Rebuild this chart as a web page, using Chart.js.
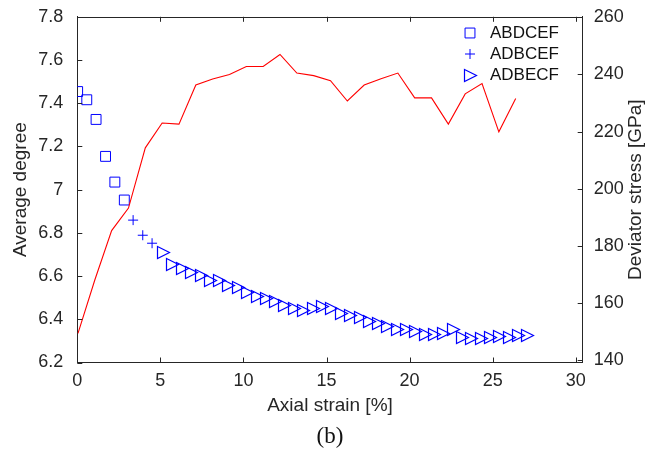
<!DOCTYPE html>
<html>
<head>
<meta charset="utf-8">
<script src="https://cdn.jsdelivr.net/npm/chart.js@4.4.1/dist/chart.umd.min.js"></script>
<style>
body { margin: 0; background: #fff; }
#wrap { position: relative; width: 656px; height: 452px; }
#caption { position: absolute; left: 0; top: 423px; width: 660px; text-align: center;
  font-family: "Liberation Serif", "DejaVu Serif", serif; font-size: 23px; color: #111; }
</style>
</head>
<body>
<div id="wrap">
  <canvas id="chart" width="656" height="452"></canvas>
  <div id="caption">(b)</div>
</div>
<script>
// average degree vs axial strain, one list per ordering
const strainABDCEF = [0.02, 0.57, 1.13, 1.70, 2.26, 2.83];
const degreeABDCEF = [7.454, 7.416, 7.325, 7.154, 7.035, 6.952];

const strainADBCEF = [3.36, 3.94, 4.50];
const degreeADBCEF = [6.859, 6.789, 6.752];

const strainADBECF = [5.2, 5.76, 6.32, 6.89, 7.45, 8.01, 8.57, 9.13, 9.69, 10.26,
  10.82, 11.38, 11.94, 12.5, 13.06, 13.63, 14.19, 14.75, 15.32, 15.88,
  16.46, 17.02, 17.56, 18.1, 18.68, 19.25, 19.79, 20.36, 20.93, 21.48,
  22.05, 22.62, 23.16, 23.7, 24.3, 24.85, 25.39, 25.99, 26.53, 27.07];
const degreeADBECF = [6.709, 6.655, 6.637, 6.616, 6.601, 6.578, 6.579, 6.558, 6.549, 6.526,
  6.504, 6.494, 6.483, 6.464, 6.449, 6.44, 6.448, 6.46, 6.452, 6.428,
  6.418, 6.409, 6.39, 6.382, 6.366, 6.353, 6.355, 6.343, 6.329, 6.329,
  6.336, 6.351, 6.315, 6.312, 6.312, 6.315, 6.32, 6.314, 6.323, 6.323];

// deviator stress (right axis)
const strainStress = [0, 1, 2, 3, 4, 5, 6, 7, 8, 9, 10, 11, 12, 13, 14, 15, 16, 17, 18, 19, 20, 21, 22, 23, 24, 25, 26];
const stress = [149.3, 168, 185.3, 193.2, 214.3, 223, 222.6, 236.3, 238.4, 240,
  242.8, 242.8, 247, 240.5, 239.6, 237.8, 230.7, 236.3, 238.5, 240.5,
  231.8, 231.8, 222.6, 233.2, 236.8, 219.9, 231.6];

const xTicks = [0, 5, 10, 15, 20, 25, 30];
const yTicks = [6.2, 6.4, 6.6, 6.8, 7.0, 7.2, 7.4, 7.6, 7.8];
const y1Ticks = [140, 160, 180, 200, 220, 240, 260];

const axisColor = '#262626';
const blue = '#0000ff';
const red = '#ff0000';

Chart.defaults.font.family = '"Liberation Sans", Arial, sans-serif';
Chart.defaults.color = axisColor;

function zip(xs, ys) {
  return xs.map((x, i) => ({ x: x, y: ys[i] }));
}

// matlab style '>' marker
const triMarker = document.createElement('canvas');
triMarker.width = 15;
triMarker.height = 15;
(function () {
  const c = triMarker.getContext('2d');
  c.strokeStyle = blue;
  c.lineWidth = 1.2;
  c.beginPath();
  c.moveTo(1.5, 1.5);
  c.lineTo(13.5, 7.5);
  c.lineTo(1.5, 13.5);
  c.closePath();
  c.stroke();
})();

const legendRows = [
  { label: 'ABDCEF', style: { pointStyle: 'rect', radius: 7, rotation: 0, borderWidth: 1 }, y: 33 },
  { label: 'ADBCEF', style: { pointStyle: 'cross', radius: 5, rotation: 0, borderWidth: 1 }, y: 54 },
  { label: 'ADBECF', style: { pointStyle: triMarker, radius: 7, rotation: 0, borderWidth: 1 }, y: 75 }
];

const framePlugin = {
  id: 'frame',
  beforeDatasetsDraw(chart) {
    // keep the image markers crisp
    chart.ctx.imageSmoothingEnabled = false;
  },
  afterDraw(chart) {
    const { ctx, chartArea: a, scales } = chart;
    ctx.save();
    ctx.strokeStyle = axisColor;
    ctx.lineWidth = 1;
    ctx.beginPath();
    ctx.moveTo(a.left, Math.round(a.top) + 0.5);
    ctx.lineTo(a.right, Math.round(a.top) + 0.5);
    xTicks.forEach(v => {
      const px = Math.round(scales.x.getPixelForValue(v)) + 0.5;
      ctx.moveTo(px, a.bottom);
      ctx.lineTo(px, a.bottom - 5);
      ctx.moveTo(px, a.top);
      ctx.lineTo(px, a.top + 5);
    });
    yTicks.forEach(v => {
      const py = Math.round(scales.y.getPixelForValue(v)) + 0.5;
      ctx.moveTo(a.left, py);
      ctx.lineTo(a.left + 5, py);
    });
    y1Ticks.forEach(v => {
      const py = Math.round(scales.y1.getPixelForValue(v)) + 0.5;
      ctx.moveTo(a.right, py);
      ctx.lineTo(a.right - 5, py);
    });
    ctx.stroke();

    // right axis title reads bottom to top
    ctx.fillStyle = axisColor;
    ctx.font = '19px "Liberation Sans", Arial, sans-serif';
    ctx.textAlign = 'center';
    ctx.textBaseline = 'middle';
    ctx.translate(636, (a.top + a.bottom) / 2);
    ctx.rotate(-Math.PI / 2);
    ctx.fillText('Deviator stress [GPa]', 0, 0);
    ctx.restore();

    // legend inside the plot
    ctx.save();
    ctx.imageSmoothingEnabled = false;
    ctx.strokeStyle = blue;
    ctx.fillStyle = 'rgba(0,0,0,0)';
    ctx.lineWidth = 1;
    legendRows.forEach(r => {
      Chart.helpers.drawPoint(ctx, r.style, 470, r.y);
    });
    ctx.fillStyle = '#111';
    ctx.font = '17px "Liberation Sans", Arial, sans-serif';
    ctx.textAlign = 'left';
    ctx.textBaseline = 'middle';
    legendRows.forEach(r => ctx.fillText(r.label, 490, r.y));
    ctx.restore();
  }
};

new Chart(document.getElementById('chart'), {
  type: 'scatter',
  data: {
    datasets: [
      {
        type: 'line',
        label: 'Deviator stress',
        data: zip(strainStress, stress),
        xAxisID: 'x2',
        yAxisID: 'y1',
        borderColor: red,
        borderWidth: 1.1,
        pointRadius: 0,
        tension: 0,
        fill: false
      },
      {
        label: 'ABDCEF',
        data: zip(strainABDCEF, degreeABDCEF),
        xAxisID: 'x',
        yAxisID: 'y',
        pointStyle: 'rect',
        pointRadius: 7,
        borderColor: blue,
        backgroundColor: 'rgba(0,0,0,0)',
        borderWidth: 1
      },
      {
        label: 'ADBCEF',
        data: zip(strainADBCEF, degreeADBCEF),
        xAxisID: 'x',
        yAxisID: 'y',
        pointStyle: 'cross',
        pointRadius: 5,
        borderColor: blue,
        backgroundColor: 'rgba(0,0,0,0)',
        borderWidth: 1
      },
      {
        label: 'ADBECF',
        data: zip(strainADBECF, degreeADBECF),
        xAxisID: 'x',
        yAxisID: 'y',
        pointStyle: triMarker,
        pointRadius: 7,
        borderColor: blue,
        backgroundColor: 'rgba(0,0,0,0)',
        borderWidth: 1
      }
    ]
  },
  options: {
    responsive: false,
    animation: false,
    events: [],
    layout: { padding: { top: 15, bottom: 30, left: 0, right: 0 } },
    plugins: {
      legend: { display: false },
      tooltip: { enabled: false }
    },
    scales: {
      x: {
        type: 'linear',
        position: 'bottom',
        min: 0,
        max: 30.42,
        afterBuildTicks: s => { s.ticks = xTicks.map(v => ({ value: v })); },
        afterFit: s => { s.height = 59.5; },
        grid: { display: false },
        border: { display: true, color: axisColor, width: 1 },
        ticks: { font: { size: 18 }, padding: 0, maxRotation: 0, color: axisColor },
        title: {
          display: true,
          text: 'Axial strain [%]',
          font: { size: 19 },
          padding: { top: 0, bottom: 5 },
          color: axisColor
        }
      },
      x2: {
        type: 'linear',
        display: false,
        min: -0.04,
        max: 29.98
      },
      y: {
        type: 'linear',
        position: 'left',
        min: 6.2,
        max: 7.8,
        afterBuildTicks: s => { s.ticks = yTicks.map(v => ({ value: v })); },
        afterFit: s => { s.width = 77.3; },
        grid: { display: false },
        border: { display: true, color: axisColor, width: 1 },
        ticks: {
          font: { size: 18 },
          padding: 6,
          color: axisColor,
          callback: v => String(+v.toFixed(1))
        },
        title: {
          display: true,
          text: 'Average degree',
          font: { size: 19 },
          padding: { top: 9, bottom: 0 },
          color: axisColor
        }
      },
      y1: {
        type: 'linear',
        position: 'right',
        min: 139.1,
        max: 260.2,
        afterBuildTicks: s => { s.ticks = y1Ticks.map(v => ({ value: v })); },
        afterFit: s => { s.width = 73.3; },
        grid: { display: false },
        border: { display: true, color: axisColor, width: 1 },
        ticks: { font: { size: 18 }, padding: 3, color: axisColor }
      }
    }
  },
  plugins: [framePlugin]
});
</script>
</body>
</html>
